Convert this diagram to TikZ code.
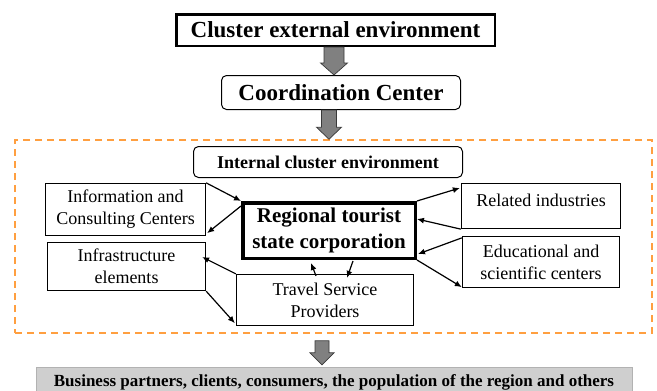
\documentclass[tikz,border=0pt]{standalone}
\usepackage{fontspec}
\setmainfont{Liberation Serif}
\usetikzlibrary{calc,arrows.meta}

% wide grey arrow pointing down: #1 start, #2 tip, #3 shaft half width, #4 head half width
\newcommand\blockdown[4]{%
  \coordinate (ba-s) at #1;
  \coordinate (ba-t) at #2;
  \path[blockarrow] ($(ba-s)+(-#3,0)$) -- ($(ba-s)+(#3,0)$)
    -- ($(ba-s |- ba-t)+(#3,-12)$) -- ($(ba-s |- ba-t)+(#4,-12)$)
    -- (ba-s |- ba-t) -- ($(ba-s |- ba-t)+(-#4,-12)$)
    -- ($(ba-s |- ba-t)+(-#3,-12)$) -- cycle;}

\tikzset{
  box/.style={draw, line width=1.3pt, inner sep=0pt, align=center,
    font=\fontsize{18}{22}\selectfont},
  headbox/.style={draw, inner sep=0pt, align=center,
    font=\bfseries\fontsize{23}{27}\selectfont},
  blockarrow/.style={draw=gray!45!black, line width=0.7pt, fill=gray},
  conn/.style={line width=1.2pt, -{Latex[length=7pt,width=6pt]}},
  frameline/.style={draw=orange!75!white, line width=1.5pt, dash pattern=on 7pt off 5pt},
}

\begin{document}
\begin{tikzpicture}[x=1pt,y=-1pt]
\useasboundingbox (0,0) rectangle (657,391);

% dashed frame of the internal environment
\node[frameline, minimum width=637pt, minimum height=193pt, inner sep=0pt]
  (frame) at (333.5,236.5) {};

% upper part
\node[headbox, line width=2.5pt, minimum width=318.5pt, minimum height=31.5pt]
  (ext) at (335.5,30) {Cluster external environment};
\node[headbox, line width=1pt, rounded corners=5pt, minimum width=239pt, minimum height=34pt]
  (coord) at (341,92.5) {Coordination Center};

% inside the cluster
\node[draw, line width=1pt, rounded corners=5pt, inner sep=0pt,
  minimum width=269pt, minimum height=31pt, font=\bfseries\fontsize{18}{22}\selectfont]
  (internal) at (328,162) {Internal cluster environment};

\node[draw, line width=3.5pt, inner sep=0pt, align=center,
  minimum width=172.5pt, minimum height=55.5pt,
  font=\bfseries\fontsize{21}{26}\selectfont]
  (reg) at (329,230.5) {Regional tourist\\state corporation};

\node[box, minimum width=160pt, minimum height=52pt] (info) at (125.5,209.5)
  {Information and\\Consulting Centers};
\node[box, minimum width=158pt, minimum height=48pt] (infra) at (126.5,266.5)
  {Infrastructure\\elements};
\node[box, minimum width=177pt, minimum height=51pt] (travel) at (325,300)
  {Travel Service\\Providers};
\node[box, minimum width=159pt, minimum height=45pt, text height=12pt, text depth=12pt]
  (related) at (541,206) {Related industries};
\node[box, minimum width=157pt, minimum height=51pt] (edu) at (541,262)
  {Educational and\\scientific centers};

% lower part
\node[draw=gray!60, fill=gray!38, inner sep=0pt,
  minimum width=596pt, minimum height=30pt,
  font=\bfseries\fontsize{17}{20}\selectfont]
  (partners) at (334,382)
  {Business partners, clients, consumers, the population of the region and others};

% wide arrows
\blockdown{($(ext.south)+(-1.5,0)$)}{($(coord.north)+(-7,0)$)}{10}{13.5}
\blockdown{($(coord.south)+(-12,0)$)}{($(frame.north)+(-4.5,0)$)}{7.5}{12.5}
\blockdown{($(frame.south)+(-11.5,7)$)}{($(partners.north)+(-12,-2)$)}{7}{12}

% links around the corporation
\draw[conn] (info.north east) -- (reg.north west);
\draw[conn] ($(reg.north west)+(0,5)$) -- ($(info.south east)+(1,-3)$);
\draw[conn] (travel.north west) -- ($(infra.east)+(-4,-9.5)$);
\draw[conn] (infra.south east) -- ($(travel.south west)+(-1,-3)$);
\draw[conn] ($(travel.north)+(-9,2)$) -- ($(reg.south)+(-18,3)$);
\draw[conn] ($(reg.south)+(24,1)$) -- ($(travel.north)+(22,4)$);
\draw[conn] (reg.north east) -- ($(related.west)+(-1,-18)$);
\draw[conn] (related.south west) -- ($(reg.east)+(0,-11.5)$);
\draw[conn] ($(edu.north west)+(0,2)$) -- ($(reg.east)+(1,23.5)$);
\draw[conn] (reg.south east) -- ($(edu.south west)+(0,-1)$);
\end{tikzpicture}
\end{document}
